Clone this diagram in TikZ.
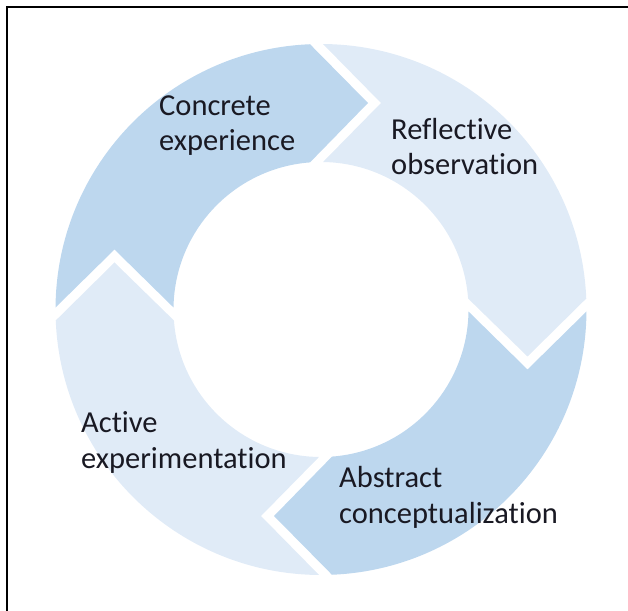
\documentclass[tikz,border=0pt]{standalone}
\usepackage{fontspec}
\setmainfont{Carlito}[Ligatures=NoCommon]
\definecolor{segdark}{RGB}{189,215,238}
\definecolor{seglight}{RGB}{224,235,247}
\definecolor{labeltext}{RGB}{25,25,35}
\begin{document}
\begin{tikzpicture}[line cap=round,line join=round,x=1pt,y=1pt,
	darkseg/.style={fill=segdark},
	lightseg/.style={fill=seglight},
	cyclabel/.style={anchor=base west,align=left,inner sep=0pt,text=labeltext,font=\fontsize{30.5}{35.5}\selectfont}]
		\useasboundingbox (0,0) rectangle (628,610);
		\draw [line width=2pt,line join=miter] (7,-20)-- (7,603)-- (650,603);
		\begin{scope}[shift={(321,300.5)}]
		\foreach \rot/\seg in {0/darkseg,-90/lightseg,-180/darkseg,-270/lightseg}
			\fill [\seg,rotate=\rot] (179.57:265.5) arc[start angle=179.57,end angle=92.37,radius=265.5]-- (47,206.5)-- (94.28:147.5) arc[start angle=94.28,end angle=179.22,radius=147.5]-- (-206.5,60)-- cycle;
		\end{scope}
		\node [cyclabel] (concrete) at (159,459.3) {Concrete\\experience};
		\node [cyclabel] (reflective) at (391,435) {Reflective\\observation};
		\node [cyclabel] (abstract) at (339,87) {Abstract\\conceptualization};
		\node [cyclabel] (active) at (81,142) {Active\\experimentation};
		\end{tikzpicture}
\end{document}
